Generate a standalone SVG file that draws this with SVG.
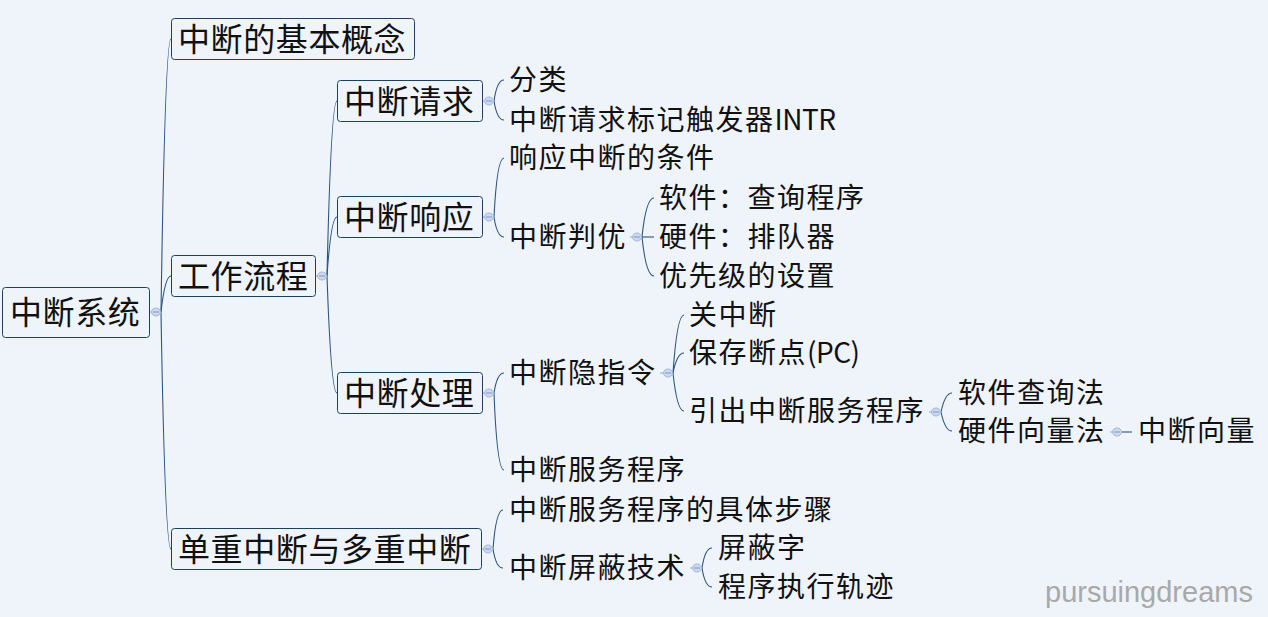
<svg xmlns="http://www.w3.org/2000/svg" width="1268" height="617" viewBox="0 0 1268 617">
<style>
.bg{fill:#eff3fa}
.box{fill:#eff3fa;stroke:#1f3f60;stroke-width:1}
.bt{font-family:"Noto Sans CJK SC","Noto Sans",sans-serif;font-size:32px;letter-spacing:0.6px;fill:#111}
.lt{font-family:"Noto Sans CJK SC","Noto Sans",sans-serif;font-size:28px;letter-spacing:1.5px;fill:#111}
.lat{letter-spacing:-0.5px}
.wm{font-family:"Liberation Sans","DejaVu Sans",sans-serif;font-size:29px;fill:#a9a9a9}
.c{fill:none;stroke:#2c5480;stroke-width:1.1}
.s{fill:none;stroke:#8ea8cf;stroke-width:1}
.dot{fill:#cbd8ee;stroke:#a2b8db;stroke-width:1}
.dm{stroke:#7d98c4;stroke-width:1}
</style>
<rect class="bg" x="0" y="0" width="1268" height="617"/>
<g id="connectors">
  <line class="s" x1="149" y1="312" x2="161" y2="312"/>
  <path class="c" d="M161,312 Q165,39 171,39"/>
  <path class="c" d="M161,312 Q165,276 171,276"/>
  <path class="c" d="M161,312 Q165,549 171,549"/>
  <line class="s" x1="315" y1="276" x2="327" y2="276"/>
  <path class="c" d="M327,276 Q331,101 337,101"/>
  <path class="c" d="M327,276 Q331,217 337,217"/>
  <path class="c" d="M327,276 Q331,393 337,393"/>
  <line class="s" x1="482" y1="101" x2="494" y2="101"/>
  <path class="c" d="M494,101 Q497,80 504,80"/>
  <path class="c" d="M494,101 Q497,120 504,120"/>
  <line class="s" x1="482" y1="217" x2="494" y2="217"/>
  <path class="c" d="M494,217 Q497,158 504,158"/>
  <path class="c" d="M494,217 Q497,237 504,237"/>
  <line class="s" x1="630" y1="237" x2="642" y2="237"/>
  <path class="c" d="M642,237 Q646,198 654,198"/>
  <line class="c" x1="642" y1="237" x2="654" y2="237"/>
  <path class="c" d="M642,237 Q646,276 654,276"/>
  <line class="s" x1="482" y1="393" x2="494" y2="393"/>
  <path class="c" d="M494,393 Q497,373 504,373"/>
  <path class="c" d="M494,393 Q497,470 504,470"/>
  <line class="s" x1="660" y1="373" x2="673" y2="373"/>
  <path class="c" d="M673,373 Q677,315 684,315"/>
  <path class="c" d="M673,373 Q677,353 684,353"/>
  <path class="c" d="M673,373 Q677,411 684,411"/>
  <line class="s" x1="929" y1="412" x2="941" y2="412"/>
  <path class="c" d="M941,412 Q945,393 952,393"/>
  <path class="c" d="M941,412 Q945,431 952,431"/>
  <line class="s" x1="1110" y1="432" x2="1122" y2="432"/>
  <line class="c" x1="1122" y1="432" x2="1132" y2="432"/>
  <line class="s" x1="481" y1="549" x2="493" y2="549"/>
  <path class="c" d="M493,549 Q496,510 503,510"/>
  <path class="c" d="M493,549 Q496,568 503,568"/>
  <line class="s" x1="690" y1="568" x2="702" y2="568"/>
  <path class="c" d="M702,568 Q705,548 712,548"/>
  <path class="c" d="M702,568 Q705,587 712,587"/>
  <g>
    <ellipse class="dot" cx="156" cy="312" rx="4.5" ry="4"/><line class="dm" x1="153" y1="312" x2="159" y2="312"/>
    <ellipse class="dot" cx="322" cy="276" rx="4.5" ry="4"/><line class="dm" x1="319" y1="276" x2="325" y2="276"/>
    <ellipse class="dot" cx="489" cy="101" rx="4.5" ry="4"/><line class="dm" x1="486" y1="101" x2="492" y2="101"/>
    <ellipse class="dot" cx="489" cy="217" rx="4.5" ry="4"/><line class="dm" x1="486" y1="217" x2="492" y2="217"/>
    <ellipse class="dot" cx="637" cy="237" rx="4.5" ry="4"/><line class="dm" x1="634" y1="237" x2="640" y2="237"/>
    <ellipse class="dot" cx="489" cy="393" rx="4.5" ry="4"/><line class="dm" x1="486" y1="393" x2="492" y2="393"/>
    <ellipse class="dot" cx="668" cy="373" rx="4.5" ry="4"/><line class="dm" x1="665" y1="373" x2="671" y2="373"/>
    <ellipse class="dot" cx="936" cy="412" rx="4.5" ry="4"/><line class="dm" x1="933" y1="412" x2="939" y2="412"/>
    <ellipse class="dot" cx="1117" cy="432" rx="4.5" ry="4"/><line class="dm" x1="1114" y1="432" x2="1120" y2="432"/>
    <ellipse class="dot" cx="488" cy="549" rx="4.5" ry="4"/><line class="dm" x1="485" y1="549" x2="491" y2="549"/>
    <ellipse class="dot" cx="697" cy="568" rx="4.5" ry="4"/><line class="dm" x1="694" y1="568" x2="700" y2="568"/>
  </g>
</g>
<g id="root"><rect class="box" x="2.5" y="287.5" width="147" height="50" rx="3"/><text class="bt" x="10" y="324">中断系统</text></g>
<g id="n-concept"><rect class="box" x="171.5" y="18.5" width="243" height="41" rx="3"/><text class="bt" x="178" y="51">中断的基本概念</text></g>
<g id="n-flow"><rect class="box" x="171.5" y="255.5" width="144" height="41" rx="3"/><text class="bt" x="178" y="288">工作流程</text></g>
<g id="n-multi"><rect class="box" x="171.5" y="528.5" width="310" height="41" rx="3"/><text class="bt" x="178" y="561">单重中断与多重中断</text></g>
<g id="n-request"><rect class="box" x="337.5" y="80.5" width="145" height="41" rx="3"/><text class="bt" x="344" y="113">中断请求</text></g>
<g id="n-response"><rect class="box" x="337.5" y="196.5" width="145" height="41" rx="3"/><text class="bt" x="344" y="229">中断响应</text></g>
<g id="n-handle"><rect class="box" x="337.5" y="372.5" width="145" height="41" rx="3"/><text class="bt" x="344" y="405">中断处理</text></g>
<g id="l-class"><text class="lt" x="509" y="90">分类</text></g>
<g id="l-intr"><text class="lt" x="509" y="130">中断请求标记触发器<tspan class="lat">INTR</tspan></text></g>
<g id="l-cond"><text class="lt" x="509" y="168">响应中断的条件</text></g>
<g id="l-prio"><text class="lt" x="509" y="247">中断判优</text></g>
<g id="l-soft"><text class="lt" x="659" y="208">软件：查询程序</text></g>
<g id="l-hard"><text class="lt" x="659" y="247">硬件：排队器</text></g>
<g id="l-level"><text class="lt" x="659" y="286">优先级的设置</text></g>
<g id="l-implicit"><text class="lt" x="509" y="383">中断隐指令</text></g>
<g id="l-close"><text class="lt" x="689" y="325">关中断</text></g>
<g id="l-save"><text class="lt" x="689" y="363">保存断点<tspan class="lat">(PC)</tspan></text></g>
<g id="l-lead"><text class="lt" x="689" y="421">引出中断服务程序</text></g>
<g id="l-query"><text class="lt" x="958" y="403">软件查询法</text></g>
<g id="l-vector"><text class="lt" x="958" y="441">硬件向量法</text></g>
<g id="l-ivec"><text class="lt" x="1138" y="441">中断向量</text></g>
<g id="l-service"><text class="lt" x="509" y="480">中断服务程序</text></g>
<g id="l-steps"><text class="lt" x="509" y="520">中断服务程序的具体步骤</text></g>
<g id="l-mask"><text class="lt" x="509" y="578">中断屏蔽技术</text></g>
<g id="l-maskword"><text class="lt" x="718" y="558">屏蔽字</text></g>
<g id="l-trace"><text class="lt" x="718" y="597">程序执行轨迹</text></g>
<text class="wm" x="1045" y="602">pursuingdreams</text>
</svg>
